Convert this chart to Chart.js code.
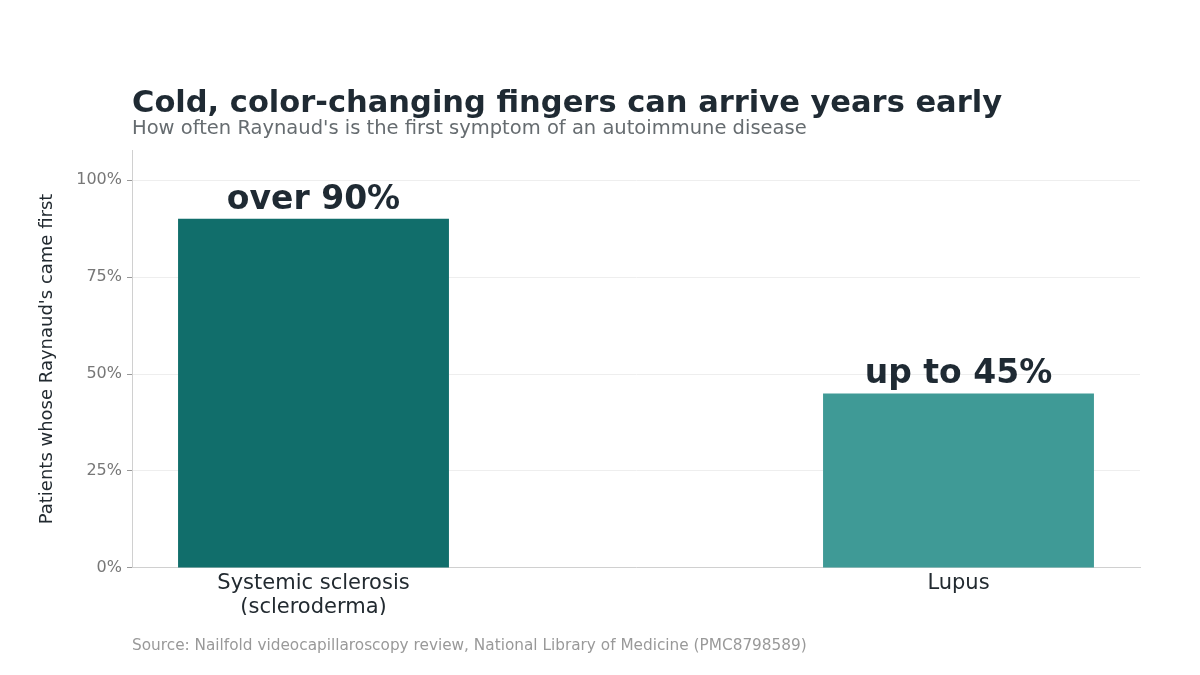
<!DOCTYPE html>
<html lang="en">
<head>
  <meta charset="UTF-8" />
  <title>Cold, color-changing fingers can arrive years early</title>
  <script src="https://cdn.jsdelivr.net/npm/chart.js"></script>
  <style>
    body {
      margin: 0;
      background: #ffffff;
      font-family: "DejaVu Sans", sans-serif;
    }
    #wrap {
      position: relative;
      width: 1200px;
      height: 675px;
    }
    #chart {
      position: absolute;
      left: 0;
      top: 0;
    }
    .title {
      position: absolute;
      left: 132px;
      top: 84px;
      font-size: 30.5px;
      font-weight: bold;
      color: #1f2a33;
      white-space: nowrap;
    }
    .subtitle {
      position: absolute;
      left: 132px;
      top: 116px;
      font-size: 19.5px;
      color: #666c70;
      white-space: nowrap;
    }
    .source {
      position: absolute;
      left: 132px;
      top: 636px;
      font-size: 15.3px;
      color: #999999;
      white-space: nowrap;
    }
  </style>
</head>
<body>
  <div id="wrap">
    <canvas id="chart" width="1200" height="675"></canvas>
    <div class="title">Cold, color-changing fingers can arrive years early</div>
    <div class="subtitle">How often Raynaud's is the first symptom of an autoimmune disease</div>
    <div class="source">Source: Nailfold videocapillaroscopy review, National Library of Medicine (PMC8798589)</div>
  </div>

  <script>
    const categories = [['Systemic sclerosis', '(scleroderma)'], ['Lupus']];
    const values = [90, 45];
    const valueLabels = ['over 90%', 'up to 45%'];
    const barColors = ['#116e6b', '#3f9a96'];
    const yTicks = [0, 25, 50, 75, 100];

    // labels drawn above each bar
    const barLabels = {
      id: 'barLabels',
      afterDatasetsDraw(chart) {
        const ctx = chart.ctx;
        const meta = chart.getDatasetMeta(0);
        ctx.save();
        ctx.font = 'bold 33px "DejaVu Sans", sans-serif';
        ctx.fillStyle = '#1f2a33';
        ctx.textAlign = 'center';
        ctx.textBaseline = 'alphabetic';
        meta.data.forEach((bar, i) => {
          ctx.fillText(valueLabels[i], bar.x, bar.y - 10);
        });
        ctx.restore();
      }
    };

    new Chart(document.getElementById('chart'), {
      type: 'bar',
      data: {
        datasets: [{
          data: values.map((v, i) => ({ x: i, y: v })),
          backgroundColor: barColors,
          borderWidth: 0,
          categoryPercentage: 0.7,
          barPercentage: 0.6
        }]
      },
      options: {
        responsive: false,
        animation: false,
        devicePixelRatio: 1,
        layout: { padding: { top: 150, right: 60, left: 0, bottom: 60 } },
        plugins: {
          legend: { display: false },
          tooltip: { enabled: false }
        },
        scales: {
          x: {
            type: 'linear',
            offset: false,
            min: -0.2814,
            max: 1.2814,
            afterBuildTicks: scale => { scale.ticks = categories.map((c, i) => ({ value: i })); },
            grid: { display: false, offset: false },
            border: { color: '#d0d0d0' },
            ticks: {
              callback: v => categories[v],
              color: '#222a30',
              font: { family: 'DejaVu Sans', size: 21, lineHeight: 1.12 },
              padding: -4,
              maxRotation: 0
            }
          },
          y: {
            min: 0,
            max: 107.75,
            afterBuildTicks: scale => { scale.ticks = yTicks.map(v => ({ value: v })); },
            afterFit: scale => { scale.width = 132; },
            grid: { color: '#eeeeee', tickColor: '#999999', tickLength: 5 },
            border: { color: '#d0d0d0' },
            ticks: {
              callback: v => v + '%',
              color: '#777777',
              font: { family: 'DejaVu Sans', size: 16 },
              padding: 5
            },
            title: {
              display: true,
              text: "Patients whose Raynaud's came first",
              color: '#222a30',
              font: { family: 'DejaVu Sans', size: 18 },
              padding: { top: 37, bottom: 0 }
            }
          }
        }
      },
      plugins: [barLabels]
    });
  </script>
</body>
</html>
